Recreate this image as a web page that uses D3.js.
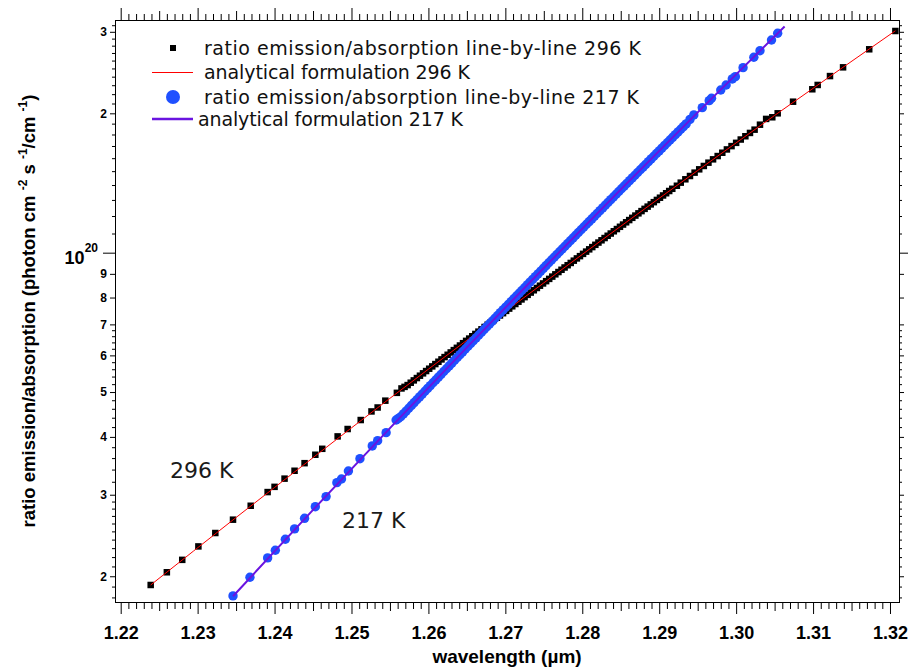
<!DOCTYPE html>
<html>
<head>
<meta charset="utf-8">
<script src="https://cdn.jsdelivr.net/npm/d3@7/dist/d3.min.js"></script>
<style>
  body { margin: 0; background: #fff; }
  svg { display: block; }
</style>
</head>
<body>
<svg width="908" height="670"></svg>
<script>
// values: wavelength in µm, ratio in units of 1e19 photon cm-2 s-1/cm-1
const wl296 = [1.2239, 1.2260, 1.2280, 1.2301, 1.2323, 1.2346, 1.2369, 1.2391, 1.2400, 1.2413,
  1.2426, 1.2439, 1.2453, 1.2462, 1.2482, 1.2495, 1.2512, 1.2526, 1.2534, 1.2544, 1.2559, 1.2565, 1.2569,
  1.2573, 1.2577, 1.2581, 1.2585, 1.2589, 1.2593, 1.2597, 1.2601, 1.2605, 1.2609,
  1.2613, 1.2617, 1.2621, 1.2625, 1.2629, 1.2633, 1.2637, 1.2641, 1.2645, 1.2649,
  1.2653, 1.2657, 1.2661, 1.2665, 1.2669, 1.2673, 1.2677, 1.2681, 1.2685, 1.2689,
  1.2693, 1.2697, 1.2701, 1.2705, 1.2709, 1.2713, 1.2717, 1.2721, 1.2725, 1.2729,
  1.2733, 1.2737, 1.2741, 1.2745, 1.2749, 1.2753, 1.2757, 1.2761, 1.2765, 1.2769,
  1.2773, 1.2777, 1.2781, 1.2785, 1.2789, 1.2793, 1.2797, 1.2801, 1.2805, 1.2809,
  1.2813, 1.2817, 1.2821, 1.2825, 1.2829, 1.2833, 1.2837, 1.2841, 1.2845, 1.2849,
  1.2853, 1.2857, 1.2861, 1.2865, 1.2869, 1.2873, 1.2877, 1.2881, 1.2885, 1.2889,
  1.2893, 1.2897, 1.2901, 1.2905, 1.2909, 1.2913, 1.2917,
  1.2923, 1.2928, 1.2934, 1.2940, 1.2946, 1.2952, 1.2958, 1.2964, 1.2970, 1.2976,
  1.2982, 1.2988, 1.2994, 1.3000, 1.3006, 1.3012, 1.3018, 1.3024, 1.3031,
  1.3039, 1.3047, 1.3054, 1.3074, 1.3099, 1.3106, 1.3122, 1.3139, 1.3173, 1.3207];
const val296 = [1.915, 2.04, 2.17, 2.32, 2.48, 2.65, 2.84, 3.04, 3.12, 3.25,
  3.38, 3.51, 3.66, 3.77, 4.01, 4.16, 4.35, 4.54, 4.63, 4.79, 4.98, 5.09, 5.13,
  5.176, 5.237, 5.298, 5.360, 5.423, 5.487, 5.550, 5.615, 5.680, 5.746,
  5.813, 5.881, 5.949, 6.018, 6.088, 6.159, 6.230, 6.302, 6.375, 6.449,
  6.523, 6.599, 6.675, 6.752, 6.830, 6.909, 6.989, 7.070, 7.151, 7.234,
  7.317, 7.401, 7.486, 7.572, 7.659, 7.747, 7.835, 7.925, 8.016, 8.108,
  8.200, 8.294, 8.389, 8.485, 8.581, 8.679, 8.778, 8.878, 8.979, 9.082,
  9.185, 9.290, 9.395, 9.502, 9.610, 9.719, 9.829, 9.941, 10.053, 10.167,
  10.282, 10.399, 10.516, 10.635, 10.755, 10.877, 10.999, 11.123, 11.247, 11.374,
  11.501, 11.631, 11.761, 11.893, 12.026, 12.161, 12.297, 12.435, 12.573, 12.714,
  12.856, 13.000, 13.144, 13.292, 13.440, 13.590, 13.741,
  13.95, 14.166, 14.404, 14.643, 14.890, 15.137, 15.391, 15.646, 15.908, 16.170,
  16.440, 16.711, 16.990, 17.269, 17.556, 17.844, 18.141, 18.438, 18.90,
  19.45, 19.61, 20.00, 21.19, 22.54, 23.03, 24.07, 25.14, 27.50, 30.12];

const wl217 = [1.2346, 1.2368, 1.2391, 1.2401, 1.2414, 1.2426, 1.2439, 1.2453, 1.2467, 1.2481,
  1.2487, 1.2496, 1.2511, 1.2527, 1.2534, 1.2545, 1.2558, 1.2561,
  1.2564, 1.25675, 1.2571, 1.25745, 1.2578, 1.25815, 1.2585, 1.25885, 1.2592, 1.25955,
  1.2599, 1.26025, 1.2606, 1.26095, 1.2613, 1.26165, 1.2620, 1.26235, 1.2627, 1.26305,
  1.2634, 1.26375, 1.2641, 1.26445, 1.2648, 1.26515, 1.2655, 1.26585, 1.2662, 1.26655,
  1.2669, 1.26725, 1.2676, 1.26795, 1.2683, 1.26865, 1.2690, 1.26935, 1.2697, 1.27005,
  1.2704, 1.27075, 1.2711, 1.27145, 1.2718, 1.27215, 1.2725, 1.27285, 1.2732, 1.27355,
  1.2739, 1.27425, 1.2746, 1.27495, 1.2753, 1.27565, 1.2760, 1.27635, 1.2767, 1.27705,
  1.2774, 1.27775, 1.2781, 1.27845, 1.2788, 1.27915, 1.2795, 1.27985, 1.2802, 1.28055,
  1.2809, 1.28125, 1.2816, 1.28195, 1.2823, 1.28265, 1.2830, 1.28335, 1.2837, 1.28405,
  1.2844, 1.28475, 1.2851, 1.28545, 1.2858, 1.28615, 1.2865, 1.28685, 1.2872, 1.28755,
  1.2879, 1.28825, 1.2886, 1.28895, 1.2893, 1.28965, 1.2900, 1.29035, 1.2907, 1.29105,
  1.2914, 1.29175, 1.2921, 1.29245, 1.2928, 1.29315, 1.2935, 1.2940,
  1.2945, 1.2956, 1.2965, 1.2968, 1.2980, 1.2987, 1.2995, 1.2999, 1.3009, 1.3023, 1.3031, 1.3046, 1.3054];
const val217 = [1.814, 1.990, 2.191, 2.276, 2.404, 2.531, 2.668, 2.827, 2.972, 3.186,
  3.245, 3.376, 3.589, 3.824, 3.926, 4.085, 4.351, 4.386,
  4.422, 4.485, 4.548, 4.613, 4.678, 4.745, 4.812, 4.880, 4.949, 5.019,
  5.090, 5.162, 5.235, 5.309, 5.384, 5.460, 5.537, 5.615, 5.694, 5.775,
  5.856, 5.939, 6.022, 6.107, 6.192, 6.279, 6.367, 6.457, 6.547, 6.639,
  6.732, 6.826, 6.921, 7.018, 7.116, 7.216, 7.316, 7.419, 7.522, 7.627,
  7.733, 7.841, 7.950, 8.061, 8.172, 8.286, 8.401, 8.518, 8.636, 8.756,
  8.877, 9.001, 9.125, 9.252, 9.379, 9.509, 9.640, 9.774, 9.908, 10.045,
  10.183, 10.324, 10.466, 10.611, 10.756, 10.905, 11.054, 11.207, 11.360, 11.517,
  11.674, 11.835, 11.996, 12.161, 12.327, 12.496, 12.666, 12.840, 13.015, 13.193,
  13.372, 13.556, 13.740, 13.928, 14.117, 14.310, 14.503, 14.701, 14.900, 15.104,
  15.308, 15.517, 15.726, 15.940, 16.155, 16.375, 16.595, 16.821, 17.047, 17.279,
  17.511, 17.749, 17.987, 18.231, 18.475, 18.725, 18.976, 19.40,
  19.84, 20.57, 21.30, 21.56, 22.46, 23.03, 23.73, 24.00, 25.10, 26.43, 27.31, 28.80, 29.78];

// analytical formulations
const fitWl296 = [1.2239, 1.235, 1.245, 1.255, 1.265, 1.275, 1.285, 1.295, 1.305, 1.3207];
const fitVal296 = [1.915, 2.679, 3.608, 4.846, 6.468, 8.606, 11.406, 15.05, 19.79, 30.15];
const fitWl217 = [1.2346, 1.245, 1.255, 1.265, 1.275, 1.285, 1.295, 1.3063];
const fitVal217 = [1.811, 2.782, 4.179, 6.242, 9.268, 13.687, 20.09, 30.80];

const xMajor = [1.22, 1.23, 1.24, 1.25, 1.26, 1.27, 1.28, 1.29, 1.30, 1.31, 1.32];
const xTickLabels = ['1.22', '1.23', '1.24', '1.25', '1.26', '1.27', '1.28', '1.29', '1.30', '1.31', '1.32'];
const yMajor = [2, 3, 4, 5, 6, 7, 8, 9, 20, 30];
const yTickLabels = ['2', '3', '4', '5', '6', '7', '8', '9', '2', '3'];
const yMinor = [1.8, 1.9, 2.1, 2.2, 2.3, 2.4, 2.5, 2.6, 2.7, 2.8, 2.9, 3.2, 3.4, 3.6, 3.8,
  4.2, 4.4, 4.6, 4.8, 5.2, 5.4, 5.6, 5.8, 6.2, 6.4, 6.6, 6.8,
  11, 12, 13, 14, 15, 16, 17, 18, 19, 21, 22, 23, 24, 25, 26, 27, 28, 29, 31];

const legendLabels = [
  'ratio emission/absorption line-by-line 296 K',
  'analytical formulation 296 K',
  'ratio emission/absorption line-by-line 217 K',
  'analytical formulation 217 K'
];

if (wl296.length !== val296.length || wl217.length !== val217.length) {
  throw new Error(`length mismatch ${wl296.length}/${val296.length} ${wl217.length}/${val217.length}`);
}

const E19 = 1e19;
const frame = { left: 115, top: 20, right: 899, bottom: 602 };

const svg = d3.select('svg');

const x = d3.scaleLinear()
  .domain([1.21926, 1.32117])
  .range([frame.left, frame.right]);

const y = d3.scaleLog()
  .domain([1.7596e19, 3.1813e20])
  .range([frame.bottom, frame.top]);

// ticks (every 0.001, longer at 0.005)
const xMid = d3.range(1225, 1320, 10).map(i => i / 1000);
const xMinor = d3.range(1220, 1321).filter(i => i % 5 !== 0).map(i => i / 1000);

function drawTicks(axis, values, size, at, labels, pad) {
  const g = svg.append('g')
    .attr('transform', at)
    .call(axis.tickValues(values)
      .tickSize(size)
      .tickPadding(pad || 3)
      .tickFormat(labels ? (d, i) => labels[i] : () => ''));
  g.select('.domain').remove();
  g.selectAll('line').attr('stroke', '#000');
  g.attr('font-family', 'Liberation Sans, Arial, sans-serif')
    .attr('font-weight', 'bold')
    .attr('fill', '#000');
  return g;
}

const atBottom = `translate(0,${frame.bottom})`;
const atTop = `translate(0,${frame.top})`;
const atLeft = `translate(${frame.left},0)`;
const atRight = `translate(${frame.right},0)`;

drawTicks(d3.axisBottom(x), xMajor, 12, atBottom, xTickLabels, 12).attr('font-size', 18);
drawTicks(d3.axisBottom(x), xMid, 9, atBottom);
drawTicks(d3.axisBottom(x), xMinor, 7, atBottom);
drawTicks(d3.axisTop(x), xMajor, 12, atTop);
drawTicks(d3.axisTop(x), xMid, 9, atTop);
drawTicks(d3.axisTop(x), xMinor, 6, atTop);

const yMajorV = yMajor.map(v => v * E19);
const yMinorV = yMinor.map(v => v * E19);
drawTicks(d3.axisLeft(y), yMajorV, 5, atLeft, yTickLabels).attr('font-size', 12);
drawTicks(d3.axisLeft(y), yMinorV, 3, atLeft);
drawTicks(d3.axisLeft(y), [1e20], 12, atLeft);
drawTicks(d3.axisRight(y), yMajorV, 5, atRight);
drawTicks(d3.axisRight(y), yMinorV, 3, atRight);
drawTicks(d3.axisRight(y), [1e20], 12, atRight);

// 10^20 label
const decade = svg.append('text')
  .attr('x', frame.left - 17)
  .attr('y', y(1e20) + 11)
  .attr('text-anchor', 'end')
  .attr('font-family', 'Liberation Sans, Arial, sans-serif')
  .attr('font-weight', 'bold')
  .attr('font-size', 18);
decade.append('tspan').text('10');
decade.append('tspan').attr('font-size', 12).attr('dy', -12).text('20');

// frame
svg.append('rect')
  .attr('x', frame.left + 0.5)
  .attr('y', frame.top + 0.5)
  .attr('width', frame.right - frame.left)
  .attr('height', frame.bottom - frame.top)
  .attr('fill', 'none')
  .attr('stroke', '#000')
  .attr('stroke-width', 1);

// axis titles
svg.append('text')
  .attr('x', (frame.left + frame.right) / 2)
  .attr('y', 663)
  .attr('text-anchor', 'middle')
  .attr('font-family', 'Liberation Sans, Arial, sans-serif')
  .attr('font-weight', 'bold')
  .attr('font-size', 19)
  .text('wavelength (µm)');

const yTitle = svg.append('text')
  .attr('transform', `translate(35,${(frame.top + frame.bottom) / 2}) rotate(-90)`)
  .attr('text-anchor', 'middle')
  .attr('font-family', 'Liberation Sans, Arial, sans-serif')
  .attr('font-weight', 'bold')
  .attr('font-size', 18.5);
yTitle.append('tspan').text('ratio emission/absorption (photon cm ');
yTitle.append('tspan').attr('font-size', 12).attr('dy', -8).text('-2');
yTitle.append('tspan').attr('dy', 8).text(' s ');
yTitle.append('tspan').attr('font-size', 12).attr('dy', -8).text('-1');
yTitle.append('tspan').attr('dy', 8).text('/cm ');
yTitle.append('tspan').attr('font-size', 12).attr('dy', -8).text('-1');
yTitle.append('tspan').attr('dy', 8).text(')');

// data
const pts296 = wl296.map((w, i) => ({ w, v: val296[i] * E19 }));
const pts217 = wl217.map((w, i) => ({ w, v: val217[i] * E19 }));
const fit296 = fitWl296.map((w, i) => ({ w, v: fitVal296[i] * E19 }));
const fit217 = fitWl217.map((w, i) => ({ w, v: fitVal217[i] * E19 }));

const line = d3.line()
  .x(d => x(d.w))
  .y(d => y(d.v))
  .curve(d3.curveMonotoneX);

const sq = 6.5;
svg.append('g')
  .attr('class', 'squares')
  .selectAll('rect')
  .data(pts296)
  .enter()
  .append('rect')
    .attr('x', d => x(d.w) - sq / 2)
    .attr('y', d => y(d.v) - sq / 2)
    .attr('width', sq)
    .attr('height', sq)
    .attr('fill', '#000');

svg.append('path')
  .datum(fit296)
  .attr('d', line)
  .attr('fill', 'none')
  .attr('stroke', '#ff0000')
  .attr('stroke-width', 1);

svg.append('g')
  .attr('class', 'circles')
  .selectAll('circle')
  .data(pts217)
  .enter()
  .append('circle')
    .attr('cx', d => x(d.w))
    .attr('cy', d => y(d.v))
    .attr('r', 4.7)
    .attr('fill', '#1f50ff');

svg.append('path')
  .datum(fit217)
  .attr('d', line)
  .attr('fill', 'none')
  .attr('stroke', '#6a14e0')
  .attr('stroke-width', 2);

// curve labels
const annot = svg.append('g')
  .attr('font-family', 'DejaVu Sans, Verdana, sans-serif')
  .attr('font-size', 22)
  .attr('fill', '#1a1a1a');
annot.append('text').attr('x', 170).attr('y', 478).text('296 K');
annot.append('text').attr('x', 342).attr('y', 528).text('217 K');

// legend
const legend = svg.append('g')
  .attr('font-family', 'DejaVu Sans, Verdana, sans-serif')
  .attr('font-size', 19)
  .attr('fill', '#111');
const rowY = [48, 72, 97, 119];
const textX = [204, 204, 204, 198];
const textLen = [437, 266, 435, 265];
legend.selectAll('text')
  .data(legendLabels)
  .enter()
  .append('text')
    .attr('x', (d, i) => textX[i])
    .attr('y', (d, i) => rowY[i] + 7)
    .attr('textLength', (d, i) => textLen[i])
    .attr('lengthAdjust', 'spacing')
    .text(d => d);
legend.append('rect')
  .attr('x', 173 - 3).attr('y', rowY[0] - 3).attr('width', 6).attr('height', 6).attr('fill', '#000');
legend.append('line')
  .attr('x1', 152).attr('x2', 193).attr('y1', rowY[1] + 0.5).attr('y2', rowY[1] + 0.5)
  .attr('stroke', '#ff0000').attr('stroke-width', 1);
legend.append('circle')
  .attr('cx', 173).attr('cy', rowY[2]).attr('r', 7).attr('fill', '#1f50ff');
legend.append('line')
  .attr('x1', 152).attr('x2', 193).attr('y1', rowY[3]).attr('y2', rowY[3])
  .attr('stroke', '#6a14e0').attr('stroke-width', 2.5);
</script>
</body>
</html>
